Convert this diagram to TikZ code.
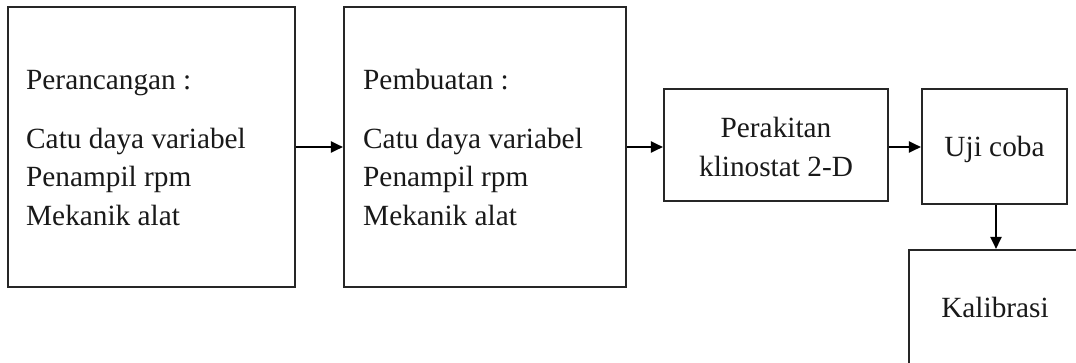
\documentclass[tikz,border=0pt]{standalone}
\usepackage{fontspec}
\setmainfont{Liberation Serif}
\usetikzlibrary{arrows.meta}
\begin{document}
\begin{tikzpicture}[x=1pt,y=-1pt,
  box/.style={draw=black!85,line width=2.1pt,rectangle,inner sep=0pt},
  txt/.style={inner sep=0pt,font=\fontsize{29.3}{38.5}\selectfont,text=black!90},
  conn/.style={draw=black,line width=2.1pt,-{Triangle[length=12pt,width=11pt]}}]
\useasboundingbox (0,0) rectangle (1076,362);
\fill[white] (0,0) rectangle (1076,362);
% boxes
\node[box,minimum width=287pt,minimum height=280pt] (b1) at (151.5,147) {};
\node[box,minimum width=282pt,minimum height=280pt] (b2) at (485,147) {};
\node[box,minimum width=224pt,minimum height=112pt] (b3) at (776,145) {};
\node[box,minimum width=145pt,minimum height=115pt] (b4) at (994.5,146.5) {};
\node[box,minimum width=172pt,minimum height=114pt] (b5) at (995,307) {};
% texts box 1
\node[txt,anchor=base west] (t1a) at (26,89) {Perancangan :};
\node[txt,anchor=base west] (t1b) at (26,148) {Catu daya variabel};
\node[txt,anchor=base west] (t1c) at (26,186.5) {Penampil rpm};
\node[txt,anchor=base west] (t1d) at (26,225) {Mekanik alat};
% texts box 2
\node[txt,anchor=base west] (t2a) at (363,89) {Pembuatan :};
\node[txt,anchor=base west] (t2b) at (363,148) {Catu daya variabel};
\node[txt,anchor=base west] (t2c) at (363,186.5) {Penampil rpm};
\node[txt,anchor=base west] (t2d) at (363,225) {Mekanik alat};
% texts box 3,4,5
\node[txt,anchor=base] (t3a) at (776,137) {Perakitan};
\node[txt,anchor=base] (t3b) at (776,176) {klinostat 2-D};
\node[txt,anchor=base] (t4) at (994.5,156) {Uji coba};
\node[txt,anchor=base] (t5) at (995,317) {Kalibrasi};
% connectors
\draw[conn] (b1.east) -- (b2.west);
\draw[conn] (b2.east) -- (b2.east -| b3.west);
\draw[conn] (b3.east |- b2.east) -- (b4.west |- b2.east);
\draw[conn] ([xshift=1.5pt]b4.south) -- ([xshift=1.5pt]b4.south |- b5.north);
\end{tikzpicture}
\end{document}
